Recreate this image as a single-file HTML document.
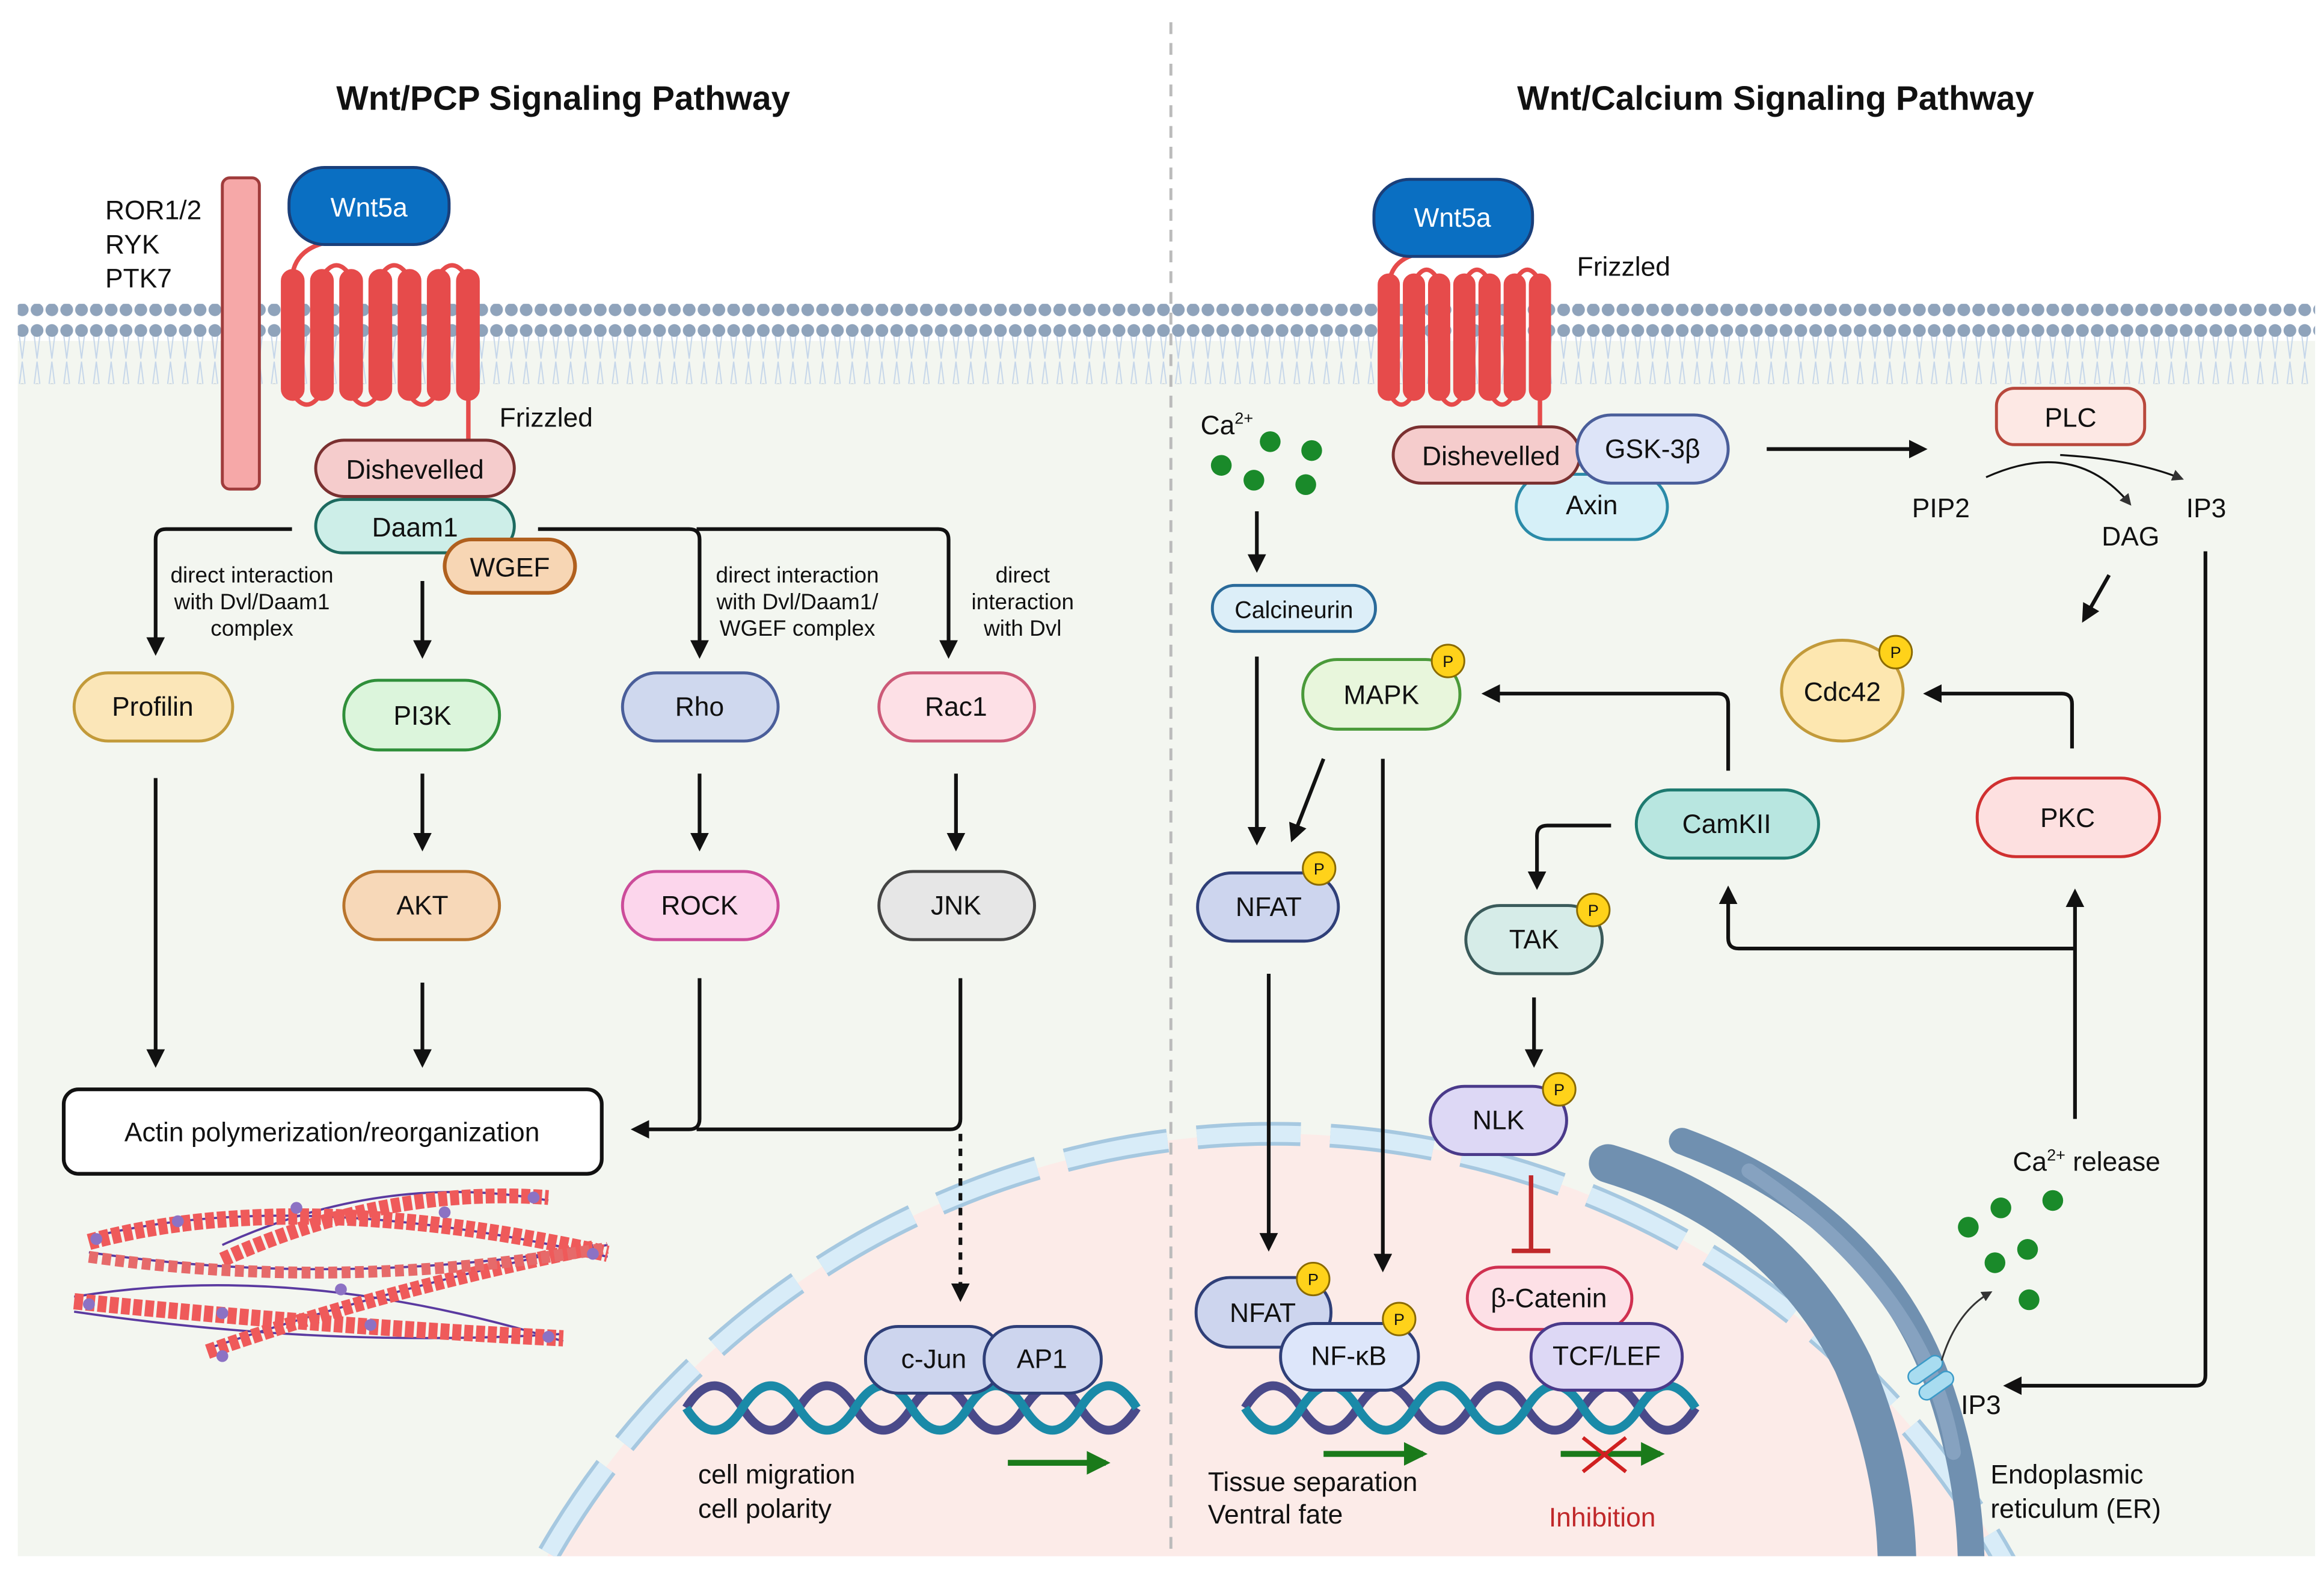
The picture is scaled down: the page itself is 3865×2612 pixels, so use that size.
<!DOCTYPE html>
<html><head><meta charset="utf-8"><style>
html,body{margin:0;padding:0;background:#fff;width:3865px;height:2612px;overflow:hidden}
svg{display:block}
text{font-family:"Liberation Sans",sans-serif;fill:#111}
</style></head><body>
<svg width="3865" height="2612" viewBox="0 0 1568 1060" preserveAspectRatio="none" xmlns="http://www.w3.org/2000/svg">
<defs>
<marker id="a" viewBox="0 0 10 10" refX="8" refY="5" markerWidth="5" markerHeight="5" orient="auto"><path d="M0,0L10,5L0,10z" fill="#111"/></marker>
<marker id="ag" viewBox="0 0 10 10" refX="8" refY="5" markerWidth="4" markerHeight="4" orient="auto"><path d="M0,0L10,5L0,10z" fill="#1a7a1a"/></marker>
<marker id="as" viewBox="0 0 10 10" refX="8" refY="5" markerWidth="6" markerHeight="6" orient="auto"><path d="M0,0L10,5L0,10z" fill="#333"/></marker>
<pattern id="mem" width="10" height="54" patternUnits="userSpaceOnUse">
<line x1="3" y1="10" x2="5" y2="26" stroke="#c5d6ea" stroke-width="0.8"/><line x1="7" y1="10" x2="5" y2="26" stroke="#c5d6ea" stroke-width="0.8"/>
<line x1="3" y1="44" x2="5" y2="28" stroke="#c5d6ea" stroke-width="0.8"/><line x1="7" y1="44" x2="5" y2="28" stroke="#c5d6ea" stroke-width="0.8"/>
<circle cx="5" cy="7" r="4.3" fill="#8fa3bb"/><circle cx="5" cy="47" r="4.3" fill="#8fa3bb"/>
</pattern>
<clipPath id="cell"><rect x="12" y="230" width="1550" height="820"/></clipPath>
</defs>
<rect width="1568" height="1060" fill="#fff"/>
<rect x="12" y="230" width="1550" height="820" fill="#f3f6f0"/>
<rect x="12" y="205" width="1550" height="54" fill="url(#mem)"/>
<g clip-path="url(#cell)">
<circle cx="860" cy="1330" r="565" fill="#fcebe8"/>
<circle cx="860" cy="1330" r="565" fill="none" stroke="#a6c8e0" stroke-width="16" stroke-dasharray="70 20"/>
<circle cx="860" cy="1330" r="565" fill="none" stroke="#d8ecf8" stroke-width="11" stroke-dasharray="70 20"/>
<g fill="none" stroke="#7090b0" stroke-linecap="round">
<path d="M1085,785 Q1200,820 1250,920 Q1280,990 1280,1060" stroke-width="26"/>
<path d="M1135,770 Q1270,820 1310,940 Q1330,1000 1330,1060" stroke-width="18"/>
<path d="M1180,790 Q1300,870 1318,980" stroke-width="10" stroke="#86a2c0"/>
</g>
</g>
<line x1="790" y1="15" x2="790" y2="1050" stroke="#bbb" stroke-width="2" stroke-dasharray="8 6"/>
<text x="380" y="74" font-size="23" font-weight="bold" text-anchor="middle">Wnt/PCP Signaling Pathway</text>
<text x="1198" y="74" font-size="23" font-weight="bold" text-anchor="middle">Wnt/Calcium Signaling Pathway</text>

<!-- LEFT receptors -->
<rect x="150" y="120" width="25" height="210" rx="5" fill="#f6a8a8" stroke="#a03c3c" stroke-width="2"/>
<text x="71" y="148" font-size="18">ROR1/2</text><text x="71" y="171" font-size="18">RYK</text><text x="71" y="194" font-size="18">PTK7</text>
<g fill="#e64b4b" stroke="#e64b4b">
<path d="M197,190 Q197,165 230,162" fill="none" stroke-width="3"/>
<g stroke-width="3" fill="none">
<path d="M197,265 q10,16 20,0"/><path d="M236,265 q10,16 20,0"/><path d="M275,265 q10,16 20,0"/>
<path d="M217,187 q10,-16 20,0"/><path d="M256,187 q10,-16 20,0"/><path d="M295,187 q10,-16 20,0"/>
<path d="M316,265 V298"/></g>
<rect x="190" y="182" width="15" height="88" rx="7.5"/><rect x="209.7" y="182" width="15" height="88" rx="7.5"/><rect x="229.4" y="182" width="15" height="88" rx="7.5"/><rect x="249.1" y="182" width="15" height="88" rx="7.5"/><rect x="268.8" y="182" width="15" height="88" rx="7.5"/><rect x="288.5" y="182" width="15" height="88" rx="7.5"/><rect x="308.2" y="182" width="15" height="88" rx="7.5"/>
</g>
<rect x="195" y="113" width="108" height="52" rx="24" fill="#0a6fc2" stroke="#1a3f7a" stroke-width="2"/>
<text x="249" y="146" font-size="18" text-anchor="middle" style="fill:#fff">Wnt5a</text>
<text x="337" y="288" font-size="18">Frizzled</text>

<g font-size="18" text-anchor="middle">
<rect x="213" y="297" width="134" height="38" rx="19" fill="#f5cccc" stroke="#7a3030" stroke-width="2"/><text x="280" y="323">Dishevelled</text>
<rect x="213" y="337" width="134" height="36" rx="18" fill="#cdeee8" stroke="#1d6a5f" stroke-width="2"/><text x="280" y="362">Daam1</text>
<rect x="300" y="364" width="88" height="36" rx="18" fill="#f7d6b4" stroke="#b0601e" stroke-width="2.5"/><text x="344" y="389">WGEF</text>
<rect x="50" y="454" width="107" height="46" rx="23" fill="#fbe6b8" stroke="#c29a3a" stroke-width="2"/><text x="103" y="483">Profilin</text>
<rect x="232" y="459" width="105" height="47" rx="23" fill="#dcf5dc" stroke="#2f8f3a" stroke-width="2"/><text x="285" y="489">PI3K</text>
<rect x="420" y="454" width="105" height="46" rx="23" fill="#cfd8ee" stroke="#4a5e9a" stroke-width="2"/><text x="472" y="483">Rho</text>
<rect x="593" y="454" width="105" height="46" rx="23" fill="#fde0e6" stroke="#cc5a78" stroke-width="2"/><text x="645" y="483">Rac1</text>
<rect x="232" y="588" width="105" height="46" rx="23" fill="#f7d8b8" stroke="#b8742c" stroke-width="2"/><text x="285" y="617">AKT</text>
<rect x="420" y="588" width="105" height="46" rx="23" fill="#fcd6ec" stroke="#cc4c9a" stroke-width="2"/><text x="472" y="617">ROCK</text>
<rect x="593" y="588" width="105" height="46" rx="23" fill="#e6e6e6" stroke="#444" stroke-width="2"/><text x="645" y="617">JNK</text>
<rect x="43" y="735" width="363" height="57" rx="10" fill="#fff" stroke="#111" stroke-width="2.5"/><text x="224" y="770">Actin polymerization/reorganization</text>
</g>
<g font-size="15" text-anchor="middle">
<text x="170" y="393">direct interaction</text><text x="170" y="411">with Dvl/Daam1</text><text x="170" y="429">complex</text>
<text x="538" y="393">direct interaction</text><text x="538" y="411">with Dvl/Daam1/</text><text x="538" y="429">WGEF complex</text>
<text x="690" y="393">direct</text><text x="690" y="411">interaction</text><text x="690" y="429">with Dvl</text>
</g>
<g stroke="#111" stroke-width="2.5" fill="none">
<path d="M197,357 H112 Q105,357 105,364 V440" marker-end="url(#a)"/>
<path d="M285,392 V442" marker-end="url(#a)"/>
<path d="M363,357 H465 Q472,357 472,364 V442" marker-end="url(#a)"/>
<path d="M470,357 H633 Q640,357 640,364 V442" marker-end="url(#a)"/>
<path d="M285,522 V572" marker-end="url(#a)"/><path d="M472,522 V572" marker-end="url(#a)"/><path d="M645,522 V572" marker-end="url(#a)"/>
<path d="M105,525 V718" marker-end="url(#a)"/><path d="M285,663 V718" marker-end="url(#a)"/>
<path d="M472,660 V755 Q472,762 465,762 H428" marker-end="url(#a)"/>
<path d="M648,660 V755 Q648,762 641,762 H470"/>
<path d="M648,765 V876" stroke-dasharray="5 5" marker-end="url(#a)"/>
</g>
<!-- actin -->
<g stroke="#5a3aa0" stroke-width="1.5" fill="none">
<path d="M60,835 Q200,800 410,848"/><path d="M60,845 Q230,870 410,840"/>
<path d="M50,875 Q200,850 380,905"/><path d="M50,885 Q220,910 380,900"/>
<path d="M150,840 Q260,790 370,810"/><path d="M140,910 Q260,870 400,840"/>
</g>
<g fill="none">
<path d="M60,838 Q200,800 410,846" stroke="#ef5a5a" stroke-width="11" stroke-dasharray="6 2"/>
<path d="M50,878 Q220,895 380,903" stroke="#ef5a5a" stroke-width="11" stroke-dasharray="6 2"/>
<path d="M150,850 Q260,800 370,808" stroke="#ef5a5a" stroke-width="10" stroke-dasharray="6 2"/>
<path d="M140,912 Q260,870 400,842" stroke="#ef5a5a" stroke-width="10" stroke-dasharray="6 2"/>
<path d="M60,848 Q230,872 410,842" stroke="#e66a6a" stroke-width="8" stroke-dasharray="6 3"/>
</g>
<g fill="#8c72c4"><circle cx="65" cy="836" r="4"/><circle cx="120" cy="824" r="4"/><circle cx="200" cy="815" r="4"/><circle cx="300" cy="818" r="4"/><circle cx="400" cy="846" r="4"/><circle cx="60" cy="880" r="4"/><circle cx="150" cy="886" r="4"/><circle cx="250" cy="894" r="4"/><circle cx="370" cy="902" r="4"/><circle cx="150" cy="915" r="4"/><circle cx="360" cy="808" r="4"/><circle cx="230" cy="870" r="4"/></g>
<!-- DNA left -->
<g fill="none" stroke-width="6">
<path d="M463,950 q19,-30 38,0 t38,0 t38,0 t38,0 t38,0 t38,0 t38,0 t38,0" stroke="#4a4a8a"/>
<path d="M463,950 q19,30 38,0 t38,0 t38,0 t38,0 t38,0 t38,0 t38,0 t38,0" stroke="#1a8aa8"/>
</g>
<g font-size="18" text-anchor="middle">
<rect x="584" y="895" width="92" height="45" rx="22" fill="#cdd5ee" stroke="#2f3f78" stroke-width="2"/><text x="630" y="923">c-Jun</text>
<rect x="664" y="895" width="79" height="45" rx="22" fill="#cdd5ee" stroke="#2f3f78" stroke-width="2"/><text x="703" y="923">AP1</text>
</g>
<text x="471" y="1001" font-size="18">cell migration</text><text x="471" y="1024" font-size="18">cell polarity</text>
<line x1="680" y1="987" x2="746" y2="987" stroke="#1a7a1a" stroke-width="4" marker-end="url(#ag)"/>

<!-- RIGHT -->
<g fill="#e64b4b" stroke="#e64b4b">
<path d="M937,195 Q937,172 965,170" fill="none" stroke-width="3"/>
<g stroke-width="3" fill="none">
<path d="M937,265 q8.5,16 17,0"/><path d="M971,265 q8.5,16 17,0"/><path d="M1005,265 q8.5,16 17,0"/>
<path d="M954,190 q8.5,-16 17,0"/><path d="M988,190 q8.5,-16 17,0"/><path d="M1022,190 q8.5,-16 17,0"/>
<path d="M1039,265 V290"/></g>
<rect x="930" y="185" width="14" height="85" rx="7"/><rect x="947" y="185" width="14" height="85" rx="7"/><rect x="964" y="185" width="14" height="85" rx="7"/><rect x="981" y="185" width="14" height="85" rx="7"/><rect x="998" y="185" width="14" height="85" rx="7"/><rect x="1015" y="185" width="14" height="85" rx="7"/><rect x="1032" y="185" width="14" height="85" rx="7"/>
</g>
<rect x="927" y="121" width="107" height="52" rx="24" fill="#0a6fc2" stroke="#1a3f7a" stroke-width="2"/>
<text x="980" y="153" font-size="18" text-anchor="middle" style="fill:#fff">Wnt5a</text>
<text x="1064" y="186" font-size="18">Frizzled</text>
<g font-size="18" text-anchor="middle">
<rect x="1023" y="320" width="102" height="44" rx="22" fill="#d6f0f8" stroke="#2a8aa8" stroke-width="2"/><text x="1074" y="347">Axin</text>
<rect x="940" y="288" width="126" height="38" rx="19" fill="#f5cccc" stroke="#7a3030" stroke-width="2"/><text x="1006" y="314">Dishevelled</text>
<rect x="1064" y="280" width="102" height="46" rx="23" fill="#dde4f8" stroke="#4a5e9a" stroke-width="2"/><text x="1115" y="309">GSK-3β</text>
<rect x="1347" y="262" width="100" height="38" rx="12" fill="#fde8e4" stroke="#b8483c" stroke-width="2"/><text x="1397" y="288">PLC</text>
<rect x="818" y="395" width="110" height="31" rx="15" fill="#dceef8" stroke="#2a6a9a" stroke-width="2"/><text x="873" y="417" font-size="16">Calcineurin</text>
<rect x="879" y="445" width="106" height="47" rx="23" fill="#e8f6dc" stroke="#4a9a3a" stroke-width="2"/><text x="932" y="475">MAPK</text>
<ellipse cx="1243" cy="466" rx="41" ry="34" fill="#fde7b0" stroke="#c29a3a" stroke-width="2"/><text x="1243" y="473">Cdc42</text>
<rect x="1334" y="525" width="123" height="53" rx="26" fill="#fde0e0" stroke="#d03030" stroke-width="2"/><text x="1395" y="558">PKC</text>
<rect x="1104" y="533" width="123" height="46" rx="23" fill="#b8e6e0" stroke="#1d7a70" stroke-width="2"/><text x="1165" y="562">CamKII</text>
<rect x="808" y="589" width="95" height="46" rx="23" fill="#cdd5ee" stroke="#2f3f78" stroke-width="2"/><text x="856" y="618">NFAT</text>
<rect x="989" y="611" width="92" height="46" rx="23" fill="#d6ece8" stroke="#3a5a5a" stroke-width="2"/><text x="1035" y="640">TAK</text>
<rect x="965" y="733" width="92" height="46" rx="23" fill="#ddd8f5" stroke="#4a3a8a" stroke-width="2"/><text x="1011" y="762">NLK</text>
<rect x="990" y="855" width="111" height="42" rx="21" fill="#fde0e6" stroke="#d03050" stroke-width="2"/><text x="1045" y="882">β-Catenin</text>
</g>
<g fill="none" stroke-width="6">
<path d="M840,950 q19,-30 38,0 t38,0 t38,0 t38,0 t38,0 t38,0 t38,0 t38,0" stroke="#4a4a8a"/>
<path d="M840,950 q19,30 38,0 t38,0 t38,0 t38,0 t38,0 t38,0 t38,0 t38,0" stroke="#1a8aa8"/>
</g>
<g font-size="18" text-anchor="middle">
<rect x="807" y="862" width="91" height="47" rx="23" fill="#cdd5ee" stroke="#2f3f78" stroke-width="2"/><text x="852" y="892">NFAT</text>
<rect x="864" y="893" width="93" height="45" rx="22" fill="#dde6fa" stroke="#2f3f78" stroke-width="2"/><text x="910" y="921">NF-κB</text>
<rect x="1033" y="893" width="102" height="45" rx="22" fill="#ddd8f5" stroke="#4a3a8a" stroke-width="2"/><text x="1084" y="921">TCF/LEF</text>
</g>
<g font-size="11" text-anchor="middle">
<g fill="#ffd21a" stroke="#8a6a00" stroke-width="1.2"><circle cx="977" cy="446" r="11"/><circle cx="1279" cy="440" r="11"/><circle cx="890" cy="586" r="11"/><circle cx="1075" cy="614" r="11"/><circle cx="1052" cy="735" r="11"/><circle cx="886" cy="863" r="11"/><circle cx="944" cy="890" r="11"/></g>
<text x="977" y="450">P</text><text x="1279" y="444">P</text><text x="890" y="590">P</text><text x="1075" y="618">P</text><text x="1052" y="739">P</text><text x="886" y="867">P</text><text x="944" y="894">P</text>
</g>
<g fill="#1a8a2a"><circle cx="857" cy="298" r="7"/><circle cx="885" cy="304" r="7"/><circle cx="824" cy="314" r="7"/><circle cx="846" cy="324" r="7"/><circle cx="881" cy="327" r="7"/>
<circle cx="1385" cy="810" r="7"/><circle cx="1350" cy="815" r="7"/><circle cx="1328" cy="828" r="7"/><circle cx="1368" cy="843" r="7"/><circle cx="1346" cy="852" r="7"/><circle cx="1369" cy="877" r="7"/></g>
<text x="810" y="293" font-size="18">Ca<tspan font-size="11" dy="-7">2+</tspan></text>
<text x="1358" y="790" font-size="18">Ca<tspan font-size="11" dy="-7">2+</tspan><tspan dy="7"> release</tspan></text>
<text x="1290" y="349" font-size="18">PIP2</text><text x="1418" y="368" font-size="18">DAG</text><text x="1475" y="349" font-size="18">IP3</text>
<text x="1323" y="954" font-size="18">IP3</text>
<text x="1343" y="1001" font-size="18">Endoplasmic</text><text x="1343" y="1024" font-size="18">reticulum (ER)</text>
<text x="815" y="1006" font-size="18">Tissue separation</text><text x="815" y="1028" font-size="18">Ventral fate</text>
<text x="1045" y="1030" font-size="18" style="fill:#c0282a">Inhibition</text>
<g transform="rotate(-35 1303 930)"><rect x="1290" y="918" width="26" height="10" rx="5" fill="#a8dcf0" stroke="#3a9ac8"/><rect x="1290" y="931" width="26" height="10" rx="5" fill="#a8dcf0" stroke="#3a9ac8"/></g>
<path d="M1310,918 Q1320,885 1343,872" fill="none" stroke="#333" stroke-width="1.2" marker-end="url(#as)"/>
<line x1="893" y1="981" x2="960" y2="981" stroke="#1a7a1a" stroke-width="4" marker-end="url(#ag)"/>
<line x1="1053" y1="981" x2="1120" y2="981" stroke="#1a7a1a" stroke-width="4" marker-end="url(#ag)"/>
<path d="M1068,970 L1097,993 M1097,970 L1068,993" stroke="#d02020" stroke-width="2.5"/>
<g stroke="#111" stroke-width="2.5" fill="none">
<path d="M1192,303 H1298" marker-end="url(#a)"/>
<path d="M1340,322 Q1400,295 1437,340" stroke-width="1.3" marker-end="url(#as)"/>
<path d="M1390,307 Q1440,310 1472,323" stroke-width="1.3" marker-end="url(#as)"/>
<path d="M848,345 V384" marker-end="url(#a)"/>
<path d="M848,443 V568" marker-end="url(#a)"/>
<path d="M893,512 L872,566" marker-end="url(#a)"/>
<path d="M933,512 V856" marker-end="url(#a)"/>
<path d="M856,657 V842" marker-end="url(#a)"/>
<path d="M1166,520 V475 Q1166,468 1159,468 H1002" marker-end="url(#a)"/>
<path d="M1398,505 V475 Q1398,468 1391,468 H1300" marker-end="url(#a)"/>
<path d="M1423,388 L1406,418" marker-end="url(#a)"/>
<path d="M1488,372 V928 Q1488,935 1481,935 H1354" marker-end="url(#a)"/>
<path d="M1400,755 V602" marker-end="url(#a)"/>
<path d="M1400,640 H1173 Q1166,640 1166,633 V600" marker-end="url(#a)"/>
<path d="M1087,557 H1044 Q1037,557 1037,564 V598" marker-end="url(#a)"/>
<path d="M1035,673 V718" marker-end="url(#a)"/>
</g>
<path d="M1033,793 V843 M1020,844 H1046" stroke="#c0282a" stroke-width="3" fill="none"/>
</svg>
</body></html>
